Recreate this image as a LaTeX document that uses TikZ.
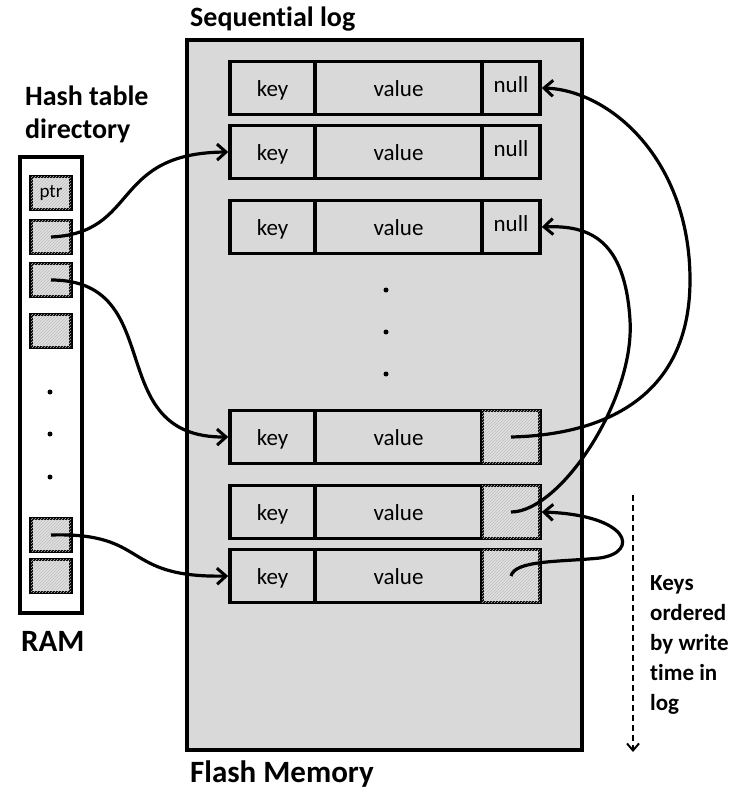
\documentclass[tikz,border=0pt]{standalone}
\usepackage{fontspec}
\setmainfont{Carlito}[Ligatures=NoCommon]
\usetikzlibrary{arrows.meta,patterns}
\tikzset{
  cell/.style={draw,line width=3.5pt,minimum height=53pt,inner sep=0pt,text height=17pt,text depth=0pt,font=\fontsize{23}{26}\selectfont},
  nullcell/.style={cell,text height=9pt},
  hatch/.style={fill=black!12,postaction={pattern=north east lines,pattern color=black!25}},
  ramcell/.style={draw,line width=3.5pt,minimum width=40pt,minimum height=33pt,inner sep=0pt,hatch},
  link/.style={line width=3.2pt,-{Straight Barb[length=9pt,width=16pt,line width=3pt]}},
  title/.style={font=\fontsize{28}{32}\bfseries\selectfont,anchor=west,inner sep=0pt},
  dot/.style={circle,fill=black,inner sep=0pt,minimum size=5pt},
}
\begin{document}
\begin{tikzpicture}[x=1pt,y=-1pt]
\useasboundingbox (0,0) rectangle (746,791);
% flash box
\draw[line width=3.2pt,fill=black!15] (187,40) rectangle (582,750);
\node[title] (seq) at (190,19) {Sequential log};
\node[title,font=\fontsize{31}{34}\bfseries\selectfont] (flash) at (190,774) {Flash Memory};
% RAM
\draw[line width=3.2pt,fill=white] (20,157) rectangle (82,613);
\node[title,align=left,anchor=north west,font=\fontsize{28}{33}\bfseries\selectfont] (htd) at (25,86) {Hash table\\directory};
\node[title,font=\fontsize{31}{34}\bfseries\selectfont] (ram) at (21,641) {RAM};
\node[ramcell,font=\fontsize{19}{20}\selectfont] (h1) at (51,193) {ptr};
\node[ramcell] (h2) at (51,237) {};
\node[ramcell] (h3) at (51,280) {};
\node[ramcell] (h4) at (51,331) {};
\node[ramcell] (h5) at (51,535) {};
\node[ramcell] (h6) at (51,576) {};
\foreach \y [count=\i] in {392,434,477}
  \node[dot] (rd\i) at (50,\y) {};
% log records
\foreach \i/\y in {1/88,2/152,3/227} {
  \node[cell,minimum width=85pt] (k\i) at (272.5,\y) {key};
  \node[cell,minimum width=167pt] (v\i) at (398.5,\y) {value};
  \node[nullcell,minimum width=58pt] (p\i) at (511,\y) {null};
}
\foreach \i/\y in {4/437,5/512,6/576} {
  \node[cell,minimum width=85pt] (k\i) at (272.5,\y) {key};
  \node[cell,minimum width=167pt] (v\i) at (398.5,\y) {value};
  \node[cell,minimum width=58pt,hatch] (p\i) at (511,\y) {};
}
\foreach \y [count=\i] in {290,332,374}
  \node[dot] (ld\i) at (386,\y) {};
% arrows
\draw[link] (h2.center) .. controls (140,233) and (110,153) .. (k2.west);
\draw[link] (h3.center) .. controls (170,280) and (100,438) .. (k4.west);
\draw[link] (h5.center) .. controls (150,532) and (120,578) .. (k6.west);
\draw[link] (p4.center) .. controls (600,435) and (690,400) .. (690,280)
   .. controls (690,160) and (610,90) .. (p1.east);
\draw[link] (p5.center) .. controls (560,512) and (635,400) .. (630,320)
   .. controls (625,240) and (590,225) .. (p3.east);
\draw[link] (p6.center) .. controls (515,560) and (560,562) .. (600,558)
   .. controls (640,552) and (630,515) .. (p5.east);
% time arrow
\coordinate (ta) at (633,495);
\coordinate (tb) at (633,752);
\draw[line width=2.2pt,dash pattern=on 6pt off 4pt,-{Straight Barb[length=7pt,width=12pt,line width=2pt]}] (ta) -- (tb);
\node[anchor=north west,align=left,inner sep=0pt,font=\fontsize{23}{30}\bfseries\selectfont] (keys) at (650,575) {Keys\\ordered\\by write\\time in\\log};
\end{tikzpicture}
\end{document}
